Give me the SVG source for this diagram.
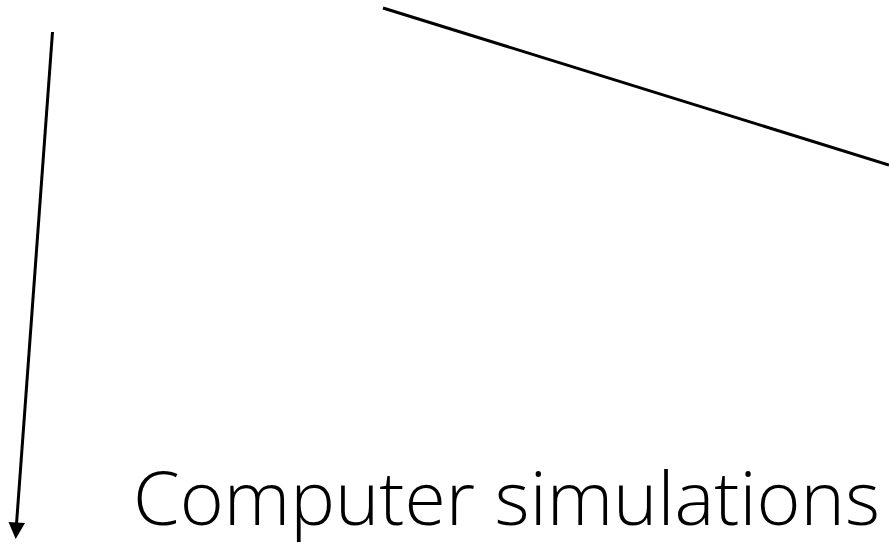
<svg xmlns="http://www.w3.org/2000/svg" width="889" height="545" viewBox="0 0 889 545">
<style>
.ln{stroke:#000;stroke-width:3;fill:none}
.t{font-family:"Open Sans","Liberation Sans",sans-serif;font-weight:300;font-size:74px;fill:#000}
</style>
<defs>
<marker id="ah" markerWidth="6" markerHeight="6" refX="5" refY="3" orient="auto" markerUnits="strokeWidth" viewBox="0 0 6 6">
<path d="M0,0 L6,3 L0,6 Z" fill="#000"/>
</marker>
</defs>
<rect width="889" height="545" fill="#fff"/>
<g id="connectors">
<line class="ln" x1="52.5" y1="32" x2="16.5" y2="524"/>
<path d="M8.5,522 L25,523 L15.7,539 Z" fill="#000"/>
<line class="ln" x1="383" y1="8" x2="889" y2="165"/>
</g>
<g id="label">
<text class="t" x="133" y="525" textLength="747" lengthAdjust="spacingAndGlyphs">Computer simulations</text>
</g>
</svg>
